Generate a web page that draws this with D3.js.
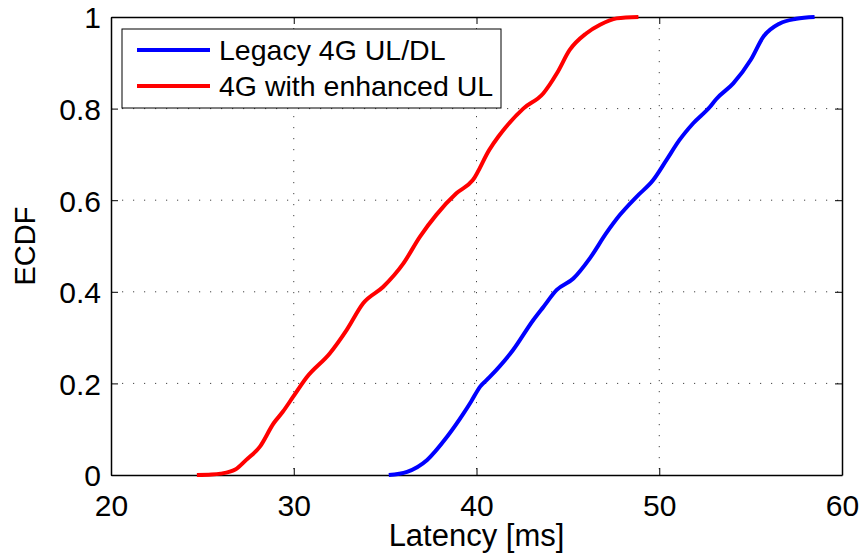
<!DOCTYPE html>
<html lang="en">
<head>
<meta charset="utf-8">
<script src="https://d3js.org/d3.v7.min.js" charset="utf-8"></script>
<style type="text/css">
	body{
		margin:0;
		background:#fff;
	}
	text{
		font-family:"Liberation Sans", Arial, sans-serif;
		fill:#000;
	}
</style>
</head>
<body>
<script type="text/javascript">
	// latency in ms
	var legacyLatency = [35.2,36.2,37.3,38.4,39.3,39.7,40.2,40.7,42.0,43.1,43.66,44.39,45.3,46.2,47.1,47.85,48.77,49.67,50.4,51.1,51.86,52.78,53.1,54.05,55.0,55.7,56.6,57.5,58.5];
	var legacyEcdf    = [0,0.007,0.033,0.084,0.135,0.160,0.193,0.213,0.273,0.338,0.367,0.404,0.429,0.473,0.528,0.568,0.608,0.644,0.688,0.731,0.768,0.804,0.820,0.855,0.906,0.957,0.986,0.996,1.0];

	var enhancedLatency = [24.7,25.5,26.0,26.8,27.4,28.15,28.9,29.4,29.97,30.7,31.98,32.9,33.8,34.9,36.0,36.9,37.8,38.9,39.8,40.7,41.2,42.56,43.65,44.4,45.1,46.0,46.76,47.67,48.86];
	var enhancedEcdf    = [0,0.001,0.003,0.012,0.033,0.062,0.113,0.138,0.171,0.213,0.266,0.317,0.375,0.411,0.462,0.520,0.568,0.615,0.644,0.71,0.739,0.80,0.833,0.877,0.928,0.964,0.983,0.997,1.0];

	var seriesNames = ["Legacy 4G UL/DL", "4G with enhanced UL"];
	var seriesColors = ["#0000ff", "#ff0000"];
	var xTicks = [20,30,40,50,60];
	var yTicks = [0,0.2,0.4,0.6,0.8,1];

	var W = 862, H = 555;
	var margin = {left:111, top:17, right:20, bottom:80};
	var w = W - margin.left - margin.right;
	var h = H - margin.top - margin.bottom;

	var svg = d3.select('body').append('svg')
		.attr('width', W)
		.attr('height', H);

	var g = svg.append('g')
		.attr('transform', 'translate(' + margin.left + ',' + margin.top + ')');

	var x = d3.scaleLinear().domain([20,60]).range([0,w]);
	var y = d3.scaleLinear().domain([0,1]).range([h,0]);

	//dotted grid
	g.selectAll('.vgrid').data(xTicks.slice(1,-1)).enter()
		.append('line')
		.attr('x1', function(d){return x(d);})
		.attr('x2', function(d){return x(d);})
		.attr('y1', 0).attr('y2', h)
		.style('stroke', '#444')
		.style('stroke-width', 1)
		.style('stroke-dasharray', '1.2,9.8');
	g.selectAll('.hgrid').data(yTicks.slice(1,-1)).enter()
		.append('line')
		.attr('y1', function(d){return y(d);})
		.attr('y2', function(d){return y(d);})
		.attr('x1', 0).attr('x2', w)
		.style('stroke', '#444')
		.style('stroke-width', 1)
		.style('stroke-dasharray', '1.2,9.8');

	//axes, ticks pointing inward on all four sides
	var axB = g.append('g').attr('transform','translate(0,' + h + ')')
		.call(d3.axisBottom(x).tickValues(xTicks).tickSizeInner(-7).tickSizeOuter(0).tickPadding(14));
	var axT = g.append('g')
		.call(d3.axisTop(x).tickValues(xTicks).tickSizeInner(-7).tickSizeOuter(0).tickFormat(''));
	var axL = g.append('g')
		.call(d3.axisLeft(y).tickValues(yTicks).tickSizeInner(-7).tickSizeOuter(0).tickPadding(10).tickFormat(function(d){return d;}));
	var axR = g.append('g').attr('transform','translate(' + w + ',0)')
		.call(d3.axisRight(y).tickValues(yTicks).tickSizeInner(-7).tickSizeOuter(0).tickFormat(''));

	[axB, axT, axL, axR].forEach(function(a){
		a.select('.domain').style('stroke','#000').style('stroke-width',1.5);
		a.selectAll('.tick line').style('stroke','#000').style('stroke-width',1);
		a.selectAll('text').style('font-size','30px').style('font-family','"Liberation Sans", Arial, sans-serif').attr('fill','#000');
	});
	axB.selectAll('text').attr('dy','0.9em');
	axL.selectAll('text').attr('dy','0.36em');

	//curves
	var line = d3.line()
		.x(function(d){return x(d[0]);})
		.y(function(d){return y(d[1]);})
		.curve(d3.curveMonotoneX);

	var series = [d3.zip(legacyLatency, legacyEcdf), d3.zip(enhancedLatency, enhancedEcdf)];
	g.selectAll('.curve').data(series).enter()
		.append('path')
		.attr('d', line)
		.style('fill','none')
		.style('stroke', function(d,i){return seriesColors[i];})
		.style('stroke-width', 4)
		.style('stroke-linejoin','round');

	//legend
	var leg = g.append('g').attr('transform','translate(11,12)');
	leg.append('rect')
		.attr('x',0).attr('y',0)
		.attr('width',379).attr('height',79)
		.style('fill','#fff')
		.style('stroke','#000')
		.style('stroke-width',1);
	seriesNames.forEach(function(name,i){
		var yy = 21 + i*36;
		leg.append('line')
			.attr('x1',15).attr('x2',88)
			.attr('y1',yy).attr('y2',yy)
			.style('stroke',seriesColors[i])
			.style('stroke-width',4);
		leg.append('text')
			.attr('x',97).attr('y',yy)
			.attr('dy','0.36em')
			.style('font-size','28.5px')
			.text(name);
	});

	//axis labels
	svg.append('text')
		.attr('x', margin.left + w/2)
		.attr('y', 546)
		.attr('text-anchor','middle')
		.style('font-size','31px')
		.text('Latency [ms]');
	svg.append('text')
		.attr('transform','translate(35,' + (margin.top + h/2) + ') rotate(-90)')
		.attr('text-anchor','middle')
		.style('font-size','29px')
		.text('ECDF');
</script>
</body>
</html>
